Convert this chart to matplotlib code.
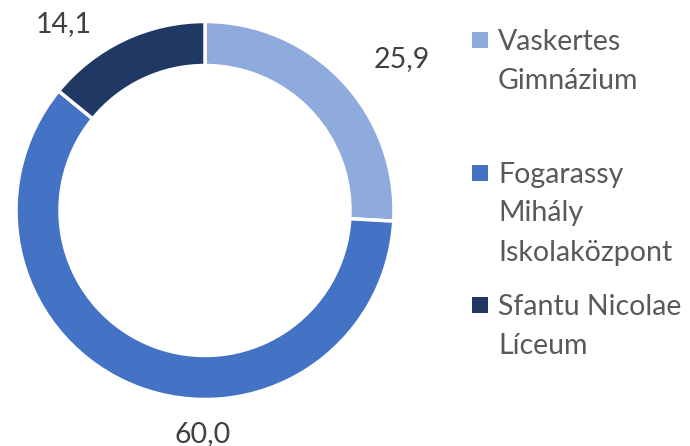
import textwrap
import matplotlib
matplotlib.use("Agg")
import matplotlib.pyplot as plt

# DATA
schools = ["Vaskertes Gimnázium", "Fogarassy Mihály Iskolaközpont", "Sfantu Nicolae Líceum"]
shares = [25.9, 60.0, 14.1]
colors = ["#8FAADC", "#4472C4", "#203864"]

W, H = 690, 446

plt.rcParams['font.family'] = ['Lato', 'DejaVu Sans']

fig = plt.figure(figsize=(W / 100, H / 100), dpi=100)
ax = fig.add_axes([0, 0, 1, 1])

# DONUT (axes in pixel units, y measured from bottom)
cx, cy, r = 205, H - 210.5, 189
wedges, _ = ax.pie(shares, radius=r, center=(cx, cy), startangle=90,
                   counterclock=False, colors=colors,
                   wedgeprops=dict(width=44, edgecolor="white", linewidth=2.5))

# DATA LABELS (positions, top-origin pixels)
label_xy = [(402, 67), (203, 442), (64, 32)]
for val, (x, y) in zip(shares, label_xy):
    ax.text(x, H - y, f"{val:.1f}".replace(".", ","), ha="center", va="baseline",
            fontsize=20.5, color="#404040")

# LEGEND (equal slots, text top aligned)
slot_top, slot_h, line_h = 50, 132.5, 39
for i, (name, col) in enumerate(zip(schools, colors)):
    base = slot_top + i * slot_h
    ax.scatter([480], [H - (base - 10)], marker="s", s=120, color=col, linewidths=0)
    for j, line in enumerate(textwrap.wrap(name, width=14)):
        ax.text(498, H - (base + j * line_h), line, ha="left", va="baseline",
                fontsize=20.5, color="#595959")

ax.set_xlim(0, W)
ax.set_ylim(0, H)
ax.axis("off")

plt.savefig("out.png", dpi=100)
